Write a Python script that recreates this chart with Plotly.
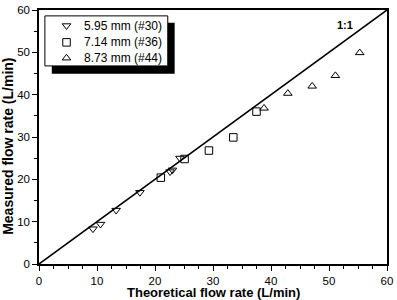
import plotly.graph_objects as go

# ---- data ----
s30_x = [9.3, 10.6, 13.3, 17.4, 22.6, 23.0, 24.3]
s30_y = [8.3, 9.4, 12.7, 16.9, 21.8, 22.2, 25.0]
s36_x = [21.0, 25.1, 29.3, 33.5, 37.5]
s36_y = [20.4, 24.8, 26.8, 29.9, 36.0]
s44_x = [38.8, 42.9, 47.1, 51.1, 55.3]
s44_y = [36.8, 40.3, 42.0, 44.5, 49.9]
names = ["5.95 mm (#30)", "7.14 mm (#36)", "8.73 mm (#44)"]
symbols = ["triangle-down-open", "square-open", "triangle-up-open"]
ref_line = [0, 60]
tick_vals = [0, 10, 20, 30, 40, 50, 60]

W, H = 397, 300
L, R, T, B = 39, 4, 5, 36
PW, PH = W - L - R, H - T - B

def px(x):
    return (x - L) / PW

def py(y):
    return (H - B - y) / PH

FONT = "Liberation Sans, Arial, sans-serif"

fig = go.Figure()
fig.add_trace(go.Scatter(x=ref_line, y=ref_line, mode="lines",
                         line=dict(color="black", width=1.6), showlegend=False,
                         hoverinfo="skip"))
for xs, ys, sym, nm in [(s30_x, s30_y, symbols[0], names[0]),
                        (s36_x, s36_y, symbols[1], names[1]),
                        (s44_x, s44_y, symbols[2], names[2])]:
    fig.add_trace(go.Scatter(x=xs, y=ys, mode="markers", name=nm,
                             marker=dict(symbol=sym, size=7.5, color="black",
                                         line=dict(width=1, color="black")),
                             showlegend=False))

# manual legend (symbols on an overlay axis in paper-like units)
leg_rows_px = [21, 38, 54]
fig.add_trace(go.Scatter(x=[px(67)] * 3, y=[py(r) for r in leg_rows_px],
                         mode="markers", xaxis="x2", yaxis="y2",
                         marker=dict(symbol=symbols, size=7.5, color="black",
                                     line=dict(width=1, color="black")),
                         showlegend=False, hoverinfo="skip", cliponaxis=False))

shapes = [
    dict(type="rect", xref="paper", yref="paper", x0=px(52), x1=px(177),
         y0=py(70), y1=py(18), fillcolor="black", line=dict(width=0), layer="below"),
    dict(type="rect", xref="paper", yref="paper", x0=px(45), x1=px(170),
         y0=py(62), y1=py(11), fillcolor="white", line=dict(width=1, color="black"),
         layer="below"),
]

annotations = []
for nm, r in zip(names, leg_rows_px):
    annotations.append(dict(x=px(83), y=py(r), xref="paper", yref="paper", text=nm,
                            showarrow=False, xanchor="left", yanchor="middle",
                            font=dict(family=FONT, size=12, color="black")))
annotations.append(dict(x=px(350), y=py(20), xref="paper", yref="paper", text="<b>1:1</b>",
                        showarrow=False, xanchor="center", yanchor="middle",
                        font=dict(family=FONT, size=11, color="black")))
annotations.append(dict(x=px(217), y=py(293), xref="paper", yref="paper",
                        text="<b>Theoretical flow rate (L/min)</b>", showarrow=False,
                        xanchor="center", yanchor="middle",
                        font=dict(family=FONT, size=13, color="black")))
annotations.append(dict(x=px(8), y=py(144), xref="paper", yref="paper",
                        text="<b>Measured flow rate (L/min)</b>", showarrow=False,
                        textangle=-90, xanchor="center", yanchor="middle",
                        font=dict(family=FONT, size=14, color="black")))

axis_common = dict(showgrid=False, zeroline=False, showline=True, linecolor="black",
                   linewidth=1.5, mirror=True, ticks="outside", ticklen=5, tickwidth=1.2,
                   tickcolor="black", tickfont=dict(family=FONT, size=11.5, color="black"),
                   range=[0, 60], tickmode="array", tickvals=tick_vals,
                   ticklabeloverflow="allow")

fig.update_layout(
    width=W, height=H, margin=dict(l=L, r=R, t=T, b=B),
    plot_bgcolor="white", paper_bgcolor="white",
    xaxis=dict(**axis_common,
               minor=dict(dtick=2.5, tick0=0, ticklen=3, tickwidth=1,
                          ticks="outside", tickcolor="black")),
    yaxis=dict(**axis_common, minor=dict(dtick=5, tick0=0, ticklen=3, tickwidth=1,
                                         ticks="outside", tickcolor="black")),
    xaxis2=dict(overlaying="x", range=[0, 1], visible=False, anchor="y2"),
    yaxis2=dict(overlaying="y", range=[0, 1], visible=False, anchor="x2"),
    shapes=shapes, annotations=annotations, showlegend=False,
)

fig.write_html("out.html")
